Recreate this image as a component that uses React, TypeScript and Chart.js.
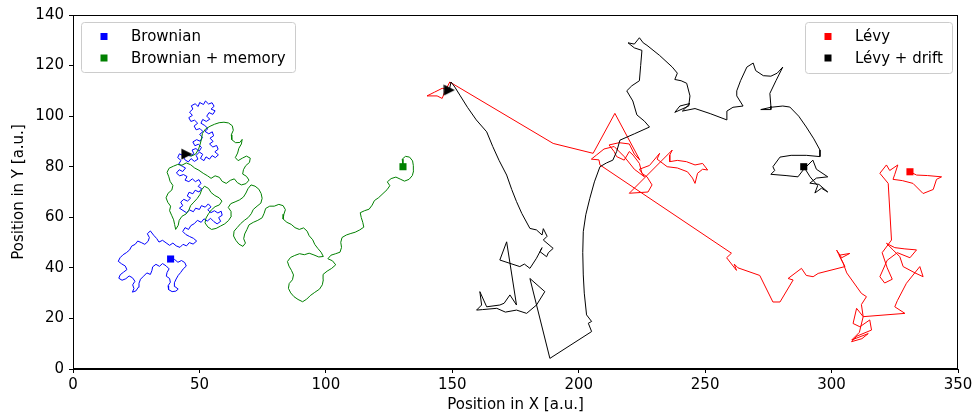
import React, { useEffect, useRef } from 'react';
import { Chart, registerables } from 'chart.js';

Chart.register(...registerables);

const FONT = '"DejaVu Sans", "Liberation Sans", sans-serif';

const xAxisTitle = 'Position in X [a.u.]';
const yAxisTitle = 'Position in Y [a.u.]';
const xRange = [0, 350];
const yRange = [0, 140];
const xStep = 50;
const yStep = 20;

const seriesLabels = ['Brownian', 'Brownian + memory', 'Lévy', 'Lévy + drift'];
const seriesColors = ['#0000ff', '#008000', '#ff0000', '#000000'];

// Brownian walk (blue)
const brownianPath: [number, number][] = [
  [45, 85], [46.3, 84.2], [47.8, 85.1], [47.1, 86.6], [48.6, 87.2], [49.9, 86.1], [50.8, 87.6], [49.6, 88.9], [48.2, 88.3], [47.4, 89.8],
  [48.9, 90.7], [50.3, 90.1], [51.2, 91.6], [50.1, 92.8], [51.4, 93.9], [50.2, 95.1], [48.7, 94.6], [47.9, 96.1], [49.3, 97.2], [48.1, 98.4],
  [46.6, 97.9], [45.8, 99.4], [47.2, 100.3], [46.1, 101.6], [47.4, 102.8], [46.8, 104.1], [48.3, 104.9], [49.5, 103.8], [50.1, 105.4], [51.6, 104.6],
  [52.4, 106], [53.6, 104.8], [55, 105.3], [55.8, 103.9], [54.6, 102.8], [56.2, 102.1], [55.3, 100.7], [53.8, 101.4], [52.9, 100], [54.1, 98.8],
  [52.7, 97.9], [51.3, 98.7], [50.6, 97.2], [52.1, 96.3], [53.4, 95.1], [52.2, 94], [53.7, 93], [55.1, 93.8], [55.6, 92.2], [54.2, 91.3],
  [55.4, 90], [54, 89], [55.3, 87.8], [56.8, 88.4], [57.4, 86.9], [56.1, 85.9], [57.5, 84.7], [56.3, 83.6], [55, 84.4], [54, 83],
  [52.6, 83.9], [51.8, 82.4], [50.4, 83.3], [51.3, 84.9], [50, 85.8], [48.7, 84.5], [49.4, 83], [48, 82.1], [46.7, 83.2], [45.6, 81.9],
  [44.2, 82.8], [43.5, 84.4], [42.1, 85.1], [41.4, 83.6], [42.7, 82.5], [41.8, 81], [43.2, 80.2], [44.5, 79.5], [43.4, 78.1], [42, 78.8],
  [40.9, 77.5], [42.2, 76.4], [43.7, 76.9], [45.1, 76.1], [44.3, 74.7], [45.8, 74.1], [47.2, 75.2], [48.4, 74.1], [49.8, 74.9], [50.6, 73.4],
  [49.5, 72.2], [50.9, 71.3], [49.8, 70], [48.3, 70.7], [47.4, 69.3], [45.9, 69.9], [45.2, 68.4], [46.5, 67.6], [45.3, 66.4], [43.8, 67.1],
  [42.6, 66], [43.4, 64.6], [42.1, 63.6], [43.5, 62.7], [44.9, 61.8], [46.1, 62.9], [47.6, 62.2], [48.5, 63.6], [50, 63.1], [50.8, 64.6],
  [52.3, 64], [53.5, 65.3], [54.6, 64.1], [53.3, 63], [54.5, 61.8], [55.9, 62.6], [57.3, 61.7], [58.6, 62.4], [59, 60.8], [57.6, 59.9],
  [58.4, 58.4], [57, 57.4], [55.7, 58.3], [54.4, 59.6], [53.1, 58.5], [51.8, 59.4], [50.7, 58], [49.2, 58.8], [48, 57.5], [46.6, 56.7],
  [45.7, 55.2], [44.3, 55.9], [43.4, 54.4], [44.6, 53.2], [46.1, 52.4], [47.6, 51.7], [48.9, 50.6], [47.5, 49.4], [46, 50], [44.9, 48.7],
  [43.5, 49.3], [42.3, 48.1], [40.8, 48.7], [39.5, 49.8], [38.2, 48.9], [36.8, 49.9], [35.4, 50.9], [34, 50.2], [33.1, 51.6], [31.9, 52.9],
  [30.6, 54.6], [29.4, 53.5], [30.2, 52], [29.7, 50.5], [28.4, 49.3], [27, 50], [25.6, 50.6], [24.6, 49.3], [23.2, 48.6], [22.4, 47.1],
  [21.1, 46], [19.8, 45.2], [18.6, 44], [17.9, 42.6], [19.2, 41.6], [20.7, 40.7], [21.3, 39.3], [20, 38.3], [18.7, 37.3], [18.1, 35.9],
  [19.4, 35.1], [20.9, 35.7], [22.2, 36.8], [23.5, 36.1], [24.5, 34.7], [23.6, 33.3], [24.1, 31.8], [23.5, 30.4], [24.9, 30.9], [25.8, 32.3],
  [26.1, 33.9], [26.7, 35.5], [27.9, 36.7], [29.2, 38], [30.6, 37.4], [31.2, 38.9], [31.5, 40.4], [32.8, 41.4], [34.2, 40.6], [35.4, 41.7],
  [36.8, 40.8], [38, 39.6], [37.2, 38.2], [36.9, 36.7], [38.2, 35.8], [38.5, 34.3], [37.6, 32.9], [37.8, 31.4], [39.2, 30.6], [40.7, 30.8],
  [41.6, 31.6], [40.3, 32.6], [40.1, 34.1], [40.8, 35.6], [41.6, 37], [42.6, 38.2], [43.6, 39.6], [44.8, 40.7], [44.2, 42.1], [42.9, 42.9],
  [41.5, 42.2], [40.2, 43.3], [38.6, 43.5],
];

// Brownian walk with memory (green)
const memoryPath: [number, number][] = [
  [45, 85], [46.8, 84.2], [48.5, 85], [49.6, 86.8], [50.3, 88.9], [50.8, 91], [51.2, 93.2], [52.4, 94.9], [54.2, 96], [56, 96.8],
  [57.8, 97.4], [59.7, 97.6], [61.5, 97.3], [63, 96.2], [63.4, 94.4], [62.6, 92.6], [62.8, 90.7], [64.3, 89.5], [66, 89.6], [66.9, 90.8],
  [66.6, 89], [65.6, 87.3], [65.1, 85.4], [64.2, 83.6], [65.3, 82.4], [67, 83.4], [68.6, 84.2], [70.1, 83.4], [69.8, 81.7], [68.3, 80.4],
  [67.4, 78.8], [67.1, 77.1], [68.6, 76.2], [69.6, 74.7], [68.4, 73.3], [66.6, 72.8], [65, 73.7], [63.8, 75.2], [62.2, 74.6], [60.6, 73.4],
  [59, 74.2], [57.9, 75.8], [56.2, 76.4], [54.6, 75.4], [53.2, 76.4], [51.5, 77.4], [49.8, 78.6], [48.1, 79.5], [46.5, 80.8], [44.8, 81.5],
  [43.1, 80.6], [41.4, 80.9], [39.7, 80.2], [38, 79.4], [37.2, 77.8], [37.9, 76], [38.4, 74.2], [39.5, 72.6], [39.1, 70.8], [37.6, 69.5],
  [36.8, 67.7], [37.5, 65.9], [38.6, 64.4], [38.2, 62.6], [39, 60.8], [39.8, 59], [40.2, 57.1], [40.6, 55.2], [41.6, 56.8], [42, 58.8],
  [43.1, 60.4], [44.7, 61.3], [45.8, 62.8], [46.5, 64.6], [47.8, 66], [49.1, 67.4], [50.2, 69], [50.9, 70.9], [52, 72.3], [53.6, 71.4],
  [54.6, 69.8], [56.1, 68.6], [57.8, 67.7], [58.9, 66.4], [57.9, 64.9], [56.2, 64.2], [54.7, 62.9], [53.6, 61.4], [52.6, 59.7], [52.2, 57.8],
  [53.3, 56.2], [54.8, 55.2], [56.6, 55.6], [58.3, 56.5], [60, 57.4], [61.5, 58.7], [62.6, 60.4], [62.5, 62.3], [61.4, 63.9], [62.4, 65.4],
  [64.1, 66.1], [65.9, 66.9], [67.4, 68], [68.4, 69.6], [69.2, 71.3], [70.4, 72.8], [72, 72.3], [73.5, 71.1], [74.4, 69.4], [74.8, 67.5],
  [74.3, 65.6], [72.8, 64.4], [71.3, 63.1], [70.5, 61.4], [69.3, 59.9], [67.8, 58.8], [66.3, 57.5], [65, 56], [63.7, 54.5], [63.5, 52.6],
  [64.4, 50.9], [65.6, 49.4], [67.2, 48.5], [68.2, 49.8], [67.5, 51.5], [67.9, 53.4], [68.8, 55.2], [69.6, 57], [71.3, 58], [73.1, 58.8],
  [74.8, 59.8], [75.6, 61.6], [76.2, 63.5], [77.8, 64.4], [79.6, 64.4], [81.4, 65.1], [83.1, 64.6], [84, 63], [83.4, 61.2], [83.1, 59.3],
  [84.6, 58], [86.3, 57.2], [87.8, 55.9], [89.5, 55.2], [91.2, 55.8], [92.6, 54.5], [93.4, 52.7], [94.8, 51.1], [95.6, 49.3], [96.8, 47.7],
  [98.1, 46.2], [99, 44.5], [97.2, 44.3], [95.3, 45.1], [93.4, 45.8], [91.5, 45.2], [89.6, 45.6], [87.7, 44.9], [86, 44.1], [84.8, 42.5],
  [85.4, 40.7], [86.4, 39], [87.2, 37.2], [86.8, 35.3], [85.5, 33.8], [85.2, 31.9], [86.1, 30.1], [87.4, 28.6], [89, 27.5], [90.8, 26.6],
  [92.4, 27.6], [93.8, 29], [95.6, 30.3], [97.5, 31.6], [98.6, 33.3], [99, 35.3], [98.9, 37.4], [100.5, 38.7], [102.3, 39.8], [103.9, 41.2],
  [102.6, 42.8], [100.8, 43.6], [102, 45], [103.9, 45.6], [105.6, 46.2], [106.2, 48.1], [105.9, 50.1], [106.4, 52], [108.1, 53], [109.9, 53.6],
  [111.6, 54.1], [113.4, 55], [115, 56.1], [114.6, 58], [114, 59.9], [113.6, 61.8], [115.3, 62.6], [117.1, 63.2], [118.3, 64.8], [119.2, 66.6],
  [120.9, 67.8], [122.6, 69.4], [124.2, 70.9], [125.3, 72.5], [124.3, 74], [125.8, 75.3], [127.7, 75.9], [129.4, 75.1], [131.1, 74.3], [132.9, 75],
  [134.2, 76.5], [134.7, 78.4], [134.6, 80.4], [134.3, 82.3], [133.1, 83.8], [131.5, 84.1], [130.2, 83], [130.5, 80],
];

// Lévy flight (red)
const levyPath: [number, number][] = [
  [148.8, 110.3], [146, 111], [143, 109.5], [140, 108], [144, 108], [146, 107], [147, 109.5], [149, 113.5], [189.9, 89.2], [205.7, 85.3],
  [214.3, 101.1], [224.2, 82.6], [222, 85], [220, 89], [216, 89.5], [212, 88.6], [214, 86], [215, 84], [218, 82.6], [220, 86],
  [221.5, 84.6], [224, 81.3], [225, 77.4], [227, 76], [229, 72.8], [227.4, 70], [220, 69.5], [237, 86.6], [236, 84.6], [236, 82],
  [239, 82.5], [242.6, 82], [246, 80.7], [249, 81.3], [251, 78.7], [249, 79], [247, 77.4], [246, 73.4], [245, 75.5], [243, 78],
  [239, 79.5], [235, 80], [231, 83], [232, 85.3], [228, 80.5], [224, 79], [226, 76], [222, 79], [218, 84], [214, 88],
  [210, 87], [207, 84.6], [205, 83], [208, 82.7], [208.4, 80.7], [260.4, 45.8], [258.5, 44], [262.4, 39], [261.5, 41.5], [263, 40],
  [271.6, 37], [276.8, 26.5], [279.6, 26.5], [284.8, 35.2], [282.8, 35.8], [288.1, 39.8], [290, 37], [292.7, 36.5], [294.7, 37.8], [305.3, 40.5],
  [302, 47], [304, 44], [307.2, 45.7], [303, 45], [304.6, 41.8], [306, 38], [311.8, 29.9], [313.8, 28.6], [311.8, 25.5], [312.5, 20.7],
  [309.9, 24], [308.5, 18], [311.2, 16.7], [315.1, 19.4], [315.8, 15.4], [310, 13], [307.9, 10.8], [312, 12], [314.5, 14], [308, 11.5],
  [311, 14.5], [312.5, 20.7], [329, 22], [325, 24.6], [326, 27], [329.6, 33.9], [334.9, 40.5], [336.2, 36.5], [333, 38], [328.3, 40.5],
  [327, 44.4], [324.3, 47.1], [321.7, 49.7], [325, 48], [329, 47.5], [333.6, 47.1], [331, 44], [326, 46], [322, 43], [319.1, 36.5],
  [321, 34], [324, 35.5], [322, 40], [320, 46], [323.7, 51], [322.4, 73.4], [319.1, 77.4], [321.7, 80.7], [323, 78.5], [326.2, 80.7],
  [325, 77], [324.3, 75], [328, 74.5], [332.2, 73.4], [336.2, 69.4], [340.2, 71], [341.5, 75], [343.5, 76], [338, 76.5], [333.6, 76.7],
  [331, 78],
];

// Lévy flight with drift (black)
const driftPath: [number, number][] = [
  [148.8, 110.3], [149.5, 113.5], [151, 111.5], [153, 108.3], [156, 103.5], [159.5, 98.5], [163.6, 93.8], [166, 88], [168.5, 82.5], [171.5, 76.7],
  [173.5, 71], [175.4, 66.2], [177.5, 61.5], [180.7, 55.6], [183.3, 55], [185.5, 53], [186, 55.5], [187.5, 52.5], [186, 51], [189.9, 47.7],
  [188, 46], [187.3, 44.4], [184.7, 46.4], [185.5, 48], [183.3, 43.8], [180.7, 39.8], [178.5, 41.5], [176.7, 40.5], [168.8, 43.1], [171.5, 50.3],
  [175.4, 25.3], [172.8, 29.3], [170.5, 26], [168.8, 25.3], [163.6, 24.6], [160.9, 30.6], [161.6, 25.3], [159.6, 23.3], [162, 23.5], [167.6, 24],
  [171, 22.5], [175.4, 23.3], [179.4, 22], [183.3, 25.3], [186.6, 30.6], [180.7, 35.8], [188.6, 4.2], [205.1, 14.8], [203.8, 18.1], [205.1, 18.8],
  [203.1, 21.4], [202.2, 30], [201.8, 37.2], [201.6, 46], [201.8, 54.3], [202.8, 61], [204.4, 67.5], [206.2, 74], [208.4, 80], [211, 81.5],
  [213.5, 82.6], [215, 86], [216.3, 90.5], [222, 93], [228, 95.7], [226, 98], [223, 100.5], [221.4, 106], [219, 110], [221, 112],
  [224, 114], [224.5, 120], [225, 126], [222, 127], [219.5, 129], [222, 128.5], [224, 131], [225.5, 129], [227, 128], [232, 124],
  [237, 119.4], [239, 117], [238, 114.5], [240.5, 114], [242.7, 113], [244, 108], [243.5, 104], [238, 101.5], [240, 104], [244, 105],
  [241, 102], [246, 103], [252, 101], [258.6, 98.5], [258.6, 102], [261, 103.5], [265, 104], [262.5, 108], [262.5, 110], [264, 114],
  [266.5, 119.4], [269, 121], [270, 118], [273, 116], [276, 115.8], [278.5, 117], [280.7, 119.4], [278, 114], [275.6, 109], [276, 104],
  [276, 102.6], [272, 102.6], [276, 103.5], [280.7, 104], [283.5, 103.6], [287, 100], [290, 95.7], [293, 91], [295.4, 86.6], [295.4, 84],
  [290, 84.5], [284, 84.5], [279.6, 83.8], [276.8, 80], [277.5, 78.5], [276, 77], [282, 76.5], [286.7, 76], [289, 79], [292.6, 82.6],
  [294, 79], [298.5, 76], [294, 75.5], [291.4, 73.5], [295, 73], [298.5, 70], [296, 71.5], [293.4, 69.6], [294.5, 72.5], [291.5, 76],
  [289, 80],
];

const paths = [brownianPath, memoryPath, levyPath, driftPath];

const toXY = (p: [number, number][]) => p.map(([x, y]) => ({ x, y }));

function makeTriangle(): HTMLCanvasElement {
  const c = document.createElement('canvas');
  c.width = 12;
  c.height = 12;
  const g = c.getContext('2d')!;
  g.fillStyle = '#000';
  g.beginPath();
  g.moveTo(0.5, 0.5);
  g.lineTo(11.5, 6);
  g.lineTo(0.5, 11.5);
  g.closePath();
  g.fill();
  return c;
}

const framePlugin = {
  id: 'frameAndLegends',
  afterDraw(chart: any) {
    const { ctx, chartArea: a } = chart;
    ctx.save();
    ctx.strokeStyle = '#000';
    ctx.lineWidth = 1;
    const l = Math.round(a.left) + 0.5;
    const t = Math.round(a.top) + 0.5;
    const r = Math.round(a.right) - 0.5;
    const b = Math.round(a.bottom) - 0.5;
    ctx.strokeRect(l, t, r - l, b - t);

    const drawBox = (x: number, y: number, w: number, h: number, idx: number[], markerX: number, textX: number) => {
      ctx.beginPath();
      ctx.roundRect(x + 0.5, y + 0.5, w, h, 3);
      ctx.fillStyle = 'rgba(255,255,255,0.8)';
      ctx.fill();
      ctx.strokeStyle = '#cccccc';
      ctx.lineWidth = 1;
      ctx.stroke();
      idx.forEach((si, i) => {
        const rowY = y + 14.5 + i * 21.5;
        ctx.fillStyle = seriesColors[si];
        ctx.fillRect(markerX - 3.5, rowY - 3.5, 7, 7);
        ctx.fillStyle = '#000';
        ctx.font = `15px ${FONT}`;
        ctx.textBaseline = 'middle';
        ctx.textAlign = 'left';
        ctx.fillText(seriesLabels[si], textX, rowY + 1);
      });
    };
    const L = Math.round(a.left);
    const T = Math.round(a.top);
    const R = Math.round(a.right);
    drawBox(L + 8, T + 7, 214, 50, [0, 1], L + 31, L + 58);
    drawBox(R - 153, T + 7, 147, 51, [2, 3], R - 130, R - 103);
    ctx.restore();
  },
};

export default function App() {
  const ref = useRef<HTMLCanvasElement | null>(null);
  useEffect(() => {
    if (!ref.current) return;
    const lineSets = paths.map((p, i) => ({
      type: 'scatter' as const,
      label: seriesLabels[i],
      data: toXY(p),
      showLine: true,
      borderColor: seriesColors[i],
      backgroundColor: seriesColors[i],
      borderWidth: 1,
      pointRadius: 0,
      tension: 0,
      fill: false,
    }));
    const endSets = paths.map((p, i) => ({
      type: 'scatter' as const,
      label: seriesLabels[i] + ' end',
      data: toXY([p[p.length - 1]]),
      pointStyle: 'rect',
      pointRadius: 5,
      borderWidth: 0,
      backgroundColor: seriesColors[i],
      borderColor: seriesColors[i],
    }));
    const startSet = {
      type: 'scatter' as const,
      label: 'start',
      data: toXY([brownianPath[0], levyPath[0]]),
      pointStyle: makeTriangle(),
      pointRadius: 6,
      borderWidth: 0,
      backgroundColor: '#000',
      borderColor: '#000',
    };
    // dataset 0 is drawn on top in Chart.js
    const datasets = [startSet, ...endSets.slice().reverse(), ...lineSets.slice().reverse()];
    const chart = new Chart(ref.current, {
      type: 'scatter',
      data: { datasets: datasets as any },
      options: {
        animation: false,
        responsive: true,
        maintainAspectRatio: false,
        events: [],
        layout: { padding: { left: 0, right: 18, top: 15, bottom: 0 } },
        plugins: { legend: { display: false }, tooltip: { enabled: false } },
        scales: {
          x: {
            type: 'linear',
            min: xRange[0],
            max: xRange[1],
            ticks: { stepSize: xStep, color: '#000', font: { family: FONT, size: 15 }, padding: 3, maxRotation: 0 },
            grid: { drawOnChartArea: false, drawTicks: true, tickLength: 4, color: '#000' },
            border: { display: true, color: '#000', width: 1 },
            title: { display: true, text: xAxisTitle, color: '#000', font: { family: FONT, size: 15 }, padding: { top: 0, bottom: 1 } },
            afterFit: (s: any) => { s.height = 46; },
          },
          y: {
            type: 'linear',
            min: yRange[0],
            max: yRange[1],
            ticks: { stepSize: yStep, color: '#000', font: { family: FONT, size: 15 }, padding: 5 },
            grid: { drawOnChartArea: false, drawTicks: true, tickLength: 4, color: '#000' },
            border: { display: true, color: '#000', width: 1 },
            title: { display: true, text: yAxisTitle, color: '#000', font: { family: FONT, size: 15 }, padding: { top: 10, bottom: 0 } },
            afterFit: (s: any) => { s.width = 73; },
          },
        },
      },
      plugins: [framePlugin],
    });
    return () => chart.destroy();
  }, []);
  return (
    <div style={{ position: 'fixed', left: 0, top: 0, width: 976, height: 415, background: '#fff' }}>
      <canvas ref={ref} />
    </div>
  );
}
